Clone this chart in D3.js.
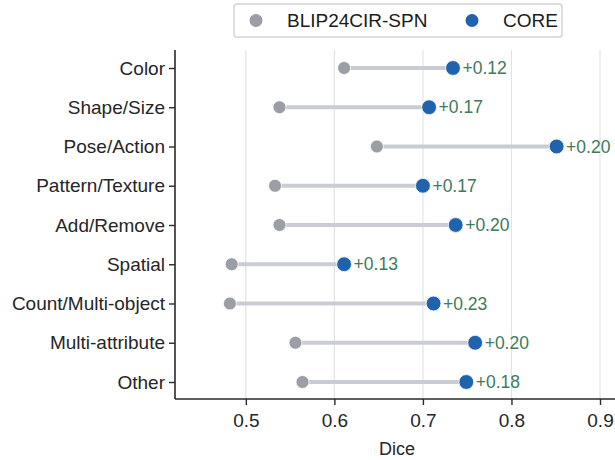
<!DOCTYPE html>
<html>
<head>
<meta charset="utf-8">
<script src="https://cdn.jsdelivr.net/npm/d3@7"></script>
<style>
  body { margin: 0; background: #fff; }
  svg text { font-family: "Liberation Sans", Arial, sans-serif; }
</style>
</head>
<body>
<div id="plot"></div>
<script>
var categories = ["Color", "Shape/Size", "Pose/Action", "Pattern/Texture", "Add/Remove",
                  "Spatial", "Count/Multi-object", "Multi-attribute", "Other"];
var baseline = [0.611, 0.538, 0.648, 0.533, 0.538, 0.484, 0.482, 0.556, 0.564];
var core     = [0.734, 0.707, 0.851, 0.700, 0.737, 0.611, 0.712, 0.759, 0.749];
var deltas   = ["+0.12", "+0.17", "+0.20", "+0.17", "+0.20", "+0.13", "+0.23", "+0.20", "+0.18"];
var xticks   = [0.5, 0.6, 0.7, 0.8, 0.9];
var series   = ["BLIP24CIR-SPN", "CORE"];

var width = 615, height = 460;
var margin = {left: 175, right: 0, top: 50, bottom: 61};

var gray = "#9b9ea4", blue = "#1f62ad", stem = "#c9cdd3", green = "#3e7a5b";
var fs = 19;

var svg = d3.select("#plot").append("svg")
	.attr("width", width)
	.attr("height", height);

var x = d3.scaleLinear()
	.domain([0.42, 0.9])
	.range([margin.left, 600]);   // 0.9 sits near the right edge

var y = d3.scalePoint()
	.domain(categories)
	.range([68, 382]);

var bottom = height - margin.bottom;

// grid
svg.append("g").selectAll("line")
	.data(xticks)
	.join("line")
	.attr("x1", d => x(d)).attr("x2", d => x(d))
	.attr("y1", margin.top).attr("y2", bottom)
	.attr("stroke", "#e2e3e6")
	.attr("stroke-width", 1.2);

// stems
var rows = categories.map((c, i) => ({cat: c, a: baseline[i], b: core[i], d: deltas[i]}));

svg.append("g").selectAll("line")
	.data(rows)
	.join("line")
	.attr("x1", d => x(d.a)).attr("x2", d => x(d.b))
	.attr("y1", d => y(d.cat)).attr("y2", d => y(d.cat))
	.attr("stroke", stem)
	.attr("stroke-width", 4);

svg.append("g").selectAll("circle")
	.data(rows)
	.join("circle")
	.attr("cx", d => x(d.a)).attr("cy", d => y(d.cat))
	.attr("r", 6.5)
	.attr("fill", gray)
	.attr("stroke", "#fff").attr("stroke-width", 0.8);

svg.append("g").selectAll("circle")
	.data(rows)
	.join("circle")
	.attr("cx", d => x(d.b)).attr("cy", d => y(d.cat))
	.attr("r", 7.4)
	.attr("fill", blue)
	.attr("stroke", "#fff").attr("stroke-width", 0.8);

svg.append("g").selectAll("text")
	.data(rows)
	.join("text")
	.attr("x", d => x(d.b) + 9.5).attr("y", d => y(d.cat))
	.attr("dy", "0.35em")
	.attr("font-size", 17.5)
	.attr("fill", green)
	.text(d => d.d);

// axes
var xAxis = svg.append("g")
	.attr("transform", "translate(0," + bottom + ")")
	.call(d3.axisBottom(x).tickValues(xticks).tickFormat(d3.format(".1f")).tickSize(6).tickPadding(9).tickSizeOuter(0));

var yAxis = svg.append("g")
	.attr("transform", "translate(" + margin.left + ",0)")
	.call(d3.axisLeft(y).tickSize(6).tickPadding(4).tickSizeOuter(0));

[xAxis, yAxis].forEach(function(g) {
	g.select(".domain").attr("stroke", "#2a2a2a").attr("stroke-width", 1.6);
	g.selectAll(".tick line").attr("stroke", "#2a2a2a").attr("stroke-width", 1.4);
	g.selectAll(".tick text").attr("font-size", fs).attr("fill", "#262626")
		.attr("font-family", "Liberation Sans, Arial, sans-serif");
});
// make the spines meet at the corner
yAxis.select(".domain").attr("d", "M0," + margin.top + "V" + bottom);
xAxis.select(".domain").attr("d", "M" + margin.left + ",0H615");

svg.append("text")
	.attr("x", (margin.left + 615) / 2 + 2)
	.attr("y", 455)
	.attr("text-anchor", "middle")
	.attr("font-size", 18)
	.attr("fill", "#262626")
	.text("Dice");

// legend
var leg = svg.append("g");
leg.append("rect")
	.attr("x", 234).attr("y", 4)
	.attr("width", 328).attr("height", 33)
	.attr("rx", 3)
	.attr("fill", "#fff")
	.attr("stroke", "#d3d3d3")
	.attr("stroke-width", 1.5);

var legX = [256, 472];
var legColors = [gray, blue];
series.forEach(function(s, i) {
	leg.append("circle")
		.attr("cx", legX[i]).attr("cy", 20.5)
		.attr("r", 6.5)
		.attr("fill", legColors[i]);
	leg.append("text")
		.attr("x", legX[i] + 31).attr("y", 20.5)
		.attr("dy", "0.35em")
		.attr("font-size", fs)
		.attr("fill", "#1a1a1a")
		.text(s);
});
</script>
</body>
</html>
